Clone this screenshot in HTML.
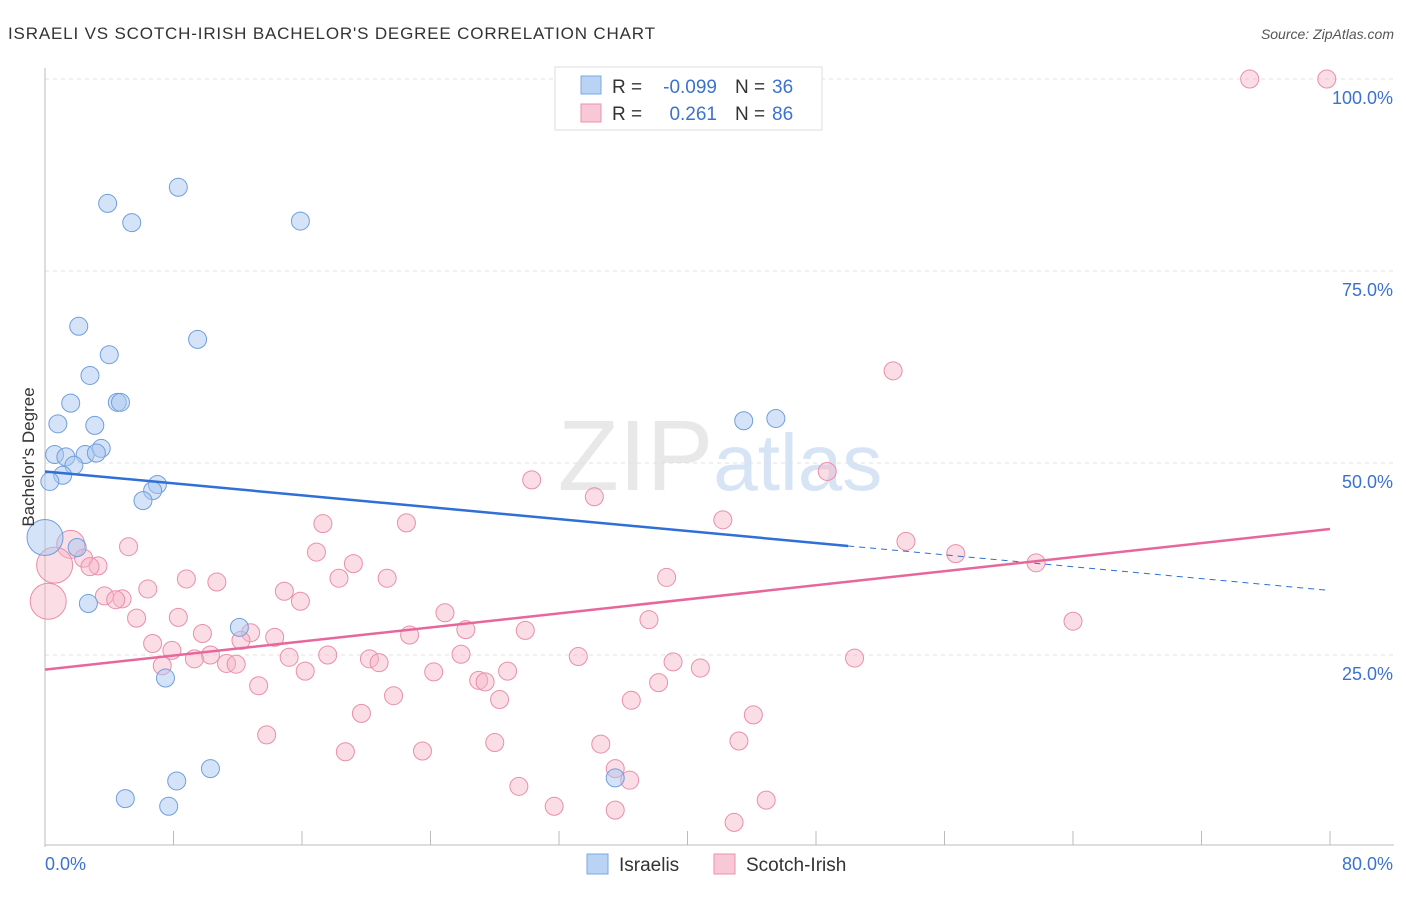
<!DOCTYPE html>
<html><head><meta charset="utf-8"><style>
body{margin:0;background:#fff;font-family:"Liberation Sans",sans-serif}
svg text{font-family:"Liberation Sans",sans-serif}
</style></head><body>
<svg width="1406" height="892" viewBox="0 0 1406 892" xmlns="http://www.w3.org/2000/svg">
<text x="8" y="39" font-size="17" fill="#333" textLength="647" lengthAdjust="spacing">ISRAELI VS SCOTCH-IRISH BACHELOR'S DEGREE CORRELATION CHART</text>
<text x="1394" y="39" font-size="14" fill="#555" text-anchor="end" font-style="italic">Source: ZipAtlas.com</text>
<text x="720" y="490" font-size="100" text-anchor="middle" fill="#e8e8e8" font-family="Liberation Serif">ZIP<tspan fill="#d6e4f5" font-family="Liberation Sans" font-size="80">atlas</tspan></text>
<g id="grid"></g>
<g id="axes"></g>
<g id="pts"></g>
<g id="trend"></g>
<text transform="translate(34,457) rotate(-90)" font-size="17" fill="#333" text-anchor="middle">Bachelor's Degree</text>
<g>
<rect x="555" y="67" width="267" height="63" fill="#fff" stroke="#ddd"/>
<rect x="581" y="76" width="20" height="18" fill="#b8d3f3" stroke="#7aa8e0"/>
<rect x="581" y="104" width="20" height="18" fill="#f9c8d6" stroke="#eb92ad"/>
<text x="612" y="93" font-size="19" fill="#333">R =</text>
<text x="717" y="93" font-size="19" fill="#3b72d0" text-anchor="end">-0.099</text>
<text x="735" y="93" font-size="19" fill="#333">N =</text>
<text x="772" y="93" font-size="19" fill="#3b72d0">36</text>
<text x="612" y="120" font-size="19" fill="#333">R =</text>
<text x="717" y="120" font-size="19" fill="#3b72d0" text-anchor="end">0.261</text>
<text x="735" y="120" font-size="19" fill="#333">N =</text>
<text x="772" y="120" font-size="19" fill="#3b72d0">86</text>
</g>
<g>
<rect x="587" y="854" width="21" height="20" fill="#b8d3f3" stroke="#7aa8e0"/>
<text x="619" y="871" font-size="19" fill="#333">Israelis</text>
<rect x="714" y="854" width="21" height="20" fill="#f9c8d6" stroke="#eb92ad"/>
<text x="746" y="871" font-size="19" fill="#333">Scotch-Irish</text>
</g>
</svg>
<script>
const yTicks=[25,50,75,100];
const yTickLabels=["25.0%","50.0%","75.0%","100.0%"];
const israeliX=[3.9,8.3,5.4,15.9,2.1,9.5,4.0,2.8,1.6,4.5,4.7,0.8,3.1,3.5,0.6,1.3,2.5,3.2,1.8,1.1,0.3,7.0,6.7,6.1,0.0,2.0,2.7,12.1,7.5,43.5,45.5,8.2,10.3,5.0,7.7,35.5];
const israeliY=[83.8,85.9,81.3,81.5,67.8,66.1,64.1,61.4,57.8,57.9,57.9,55.1,54.9,51.9,51.1,50.8,51.1,51.3,49.7,48.4,47.6,47.2,46.4,45.1,40.3,39.0,31.7,28.6,22.0,55.5,55.8,8.6,10.2,6.3,5.3,9.0];
const israeliR=[9,9,9,9,9,9,9,9,9,9,9,9,9,9,9,9,9,9,9,9,9,9,9,9,18,9,9,9,9,9,9,9,9,9,9,9];
const scotchX=[75.0,79.8,52.8,48.7,30.3,34.2,42.2,22.5,17.3,53.6,56.7,61.7,1.6,5.2,16.9,19.2,2.4,3.3,2.8,0.6,8.8,10.7,21.3,18.3,38.7,6.4,14.9,15.9,3.7,4.8,4.4,0.2,5.7,8.3,24.9,37.6,64.0,26.2,29.9,12.8,9.8,22.7,14.3,12.2,6.7,7.9,10.3,9.3,15.2,17.6,20.2,25.9,33.2,50.4,11.3,11.9,7.3,20.8,39.1,40.8,16.2,24.2,27.0,27.4,28.8,38.2,13.3,21.7,28.3,36.5,19.7,44.1,13.8,28.0,18.7,23.5,34.6,43.2,35.5,36.4,29.5,31.7,44.9,35.5,42.9];
const scotchY=[100,100,62.0,48.9,47.8,45.6,42.6,42.2,42.1,39.8,38.2,37.0,39.4,39.1,38.4,36.9,37.6,36.6,36.5,36.7,34.9,34.5,35.0,35.0,35.1,33.6,33.3,32.0,32.7,32.3,32.2,32.0,29.8,29.9,30.5,29.6,29.4,28.3,28.2,27.9,27.8,27.6,27.3,26.9,26.5,25.6,25.0,24.5,24.7,25.0,24.5,25.1,24.8,24.6,23.9,23.8,23.6,24.0,24.1,23.3,22.9,22.8,21.7,21.5,22.9,21.4,21.0,19.7,19.2,19.1,17.4,17.2,14.6,13.6,12.4,12.5,13.4,13.8,10.2,8.7,7.9,5.3,6.1,4.8,3.2];
const scotchR=[9,9,9,9,9,9,9,9,9,9,9,9,14,9,9,9,9,9,9,18,9,9,9,9,9,9,9,9,9,9,9,18,9,9,9,9,9,9,9,9,9,9,9,9,9,9,9,9,9,9,9,9,9,9,9,9,9,9,9,9,9,9,9,9,9,9,9,9,9,9,9,9,9,9,9,9,9,9,9,9,9,9,9,9,9];
const israeliTrend=[[0,48.9],[50,39.2],[80,33.4]];
const scotchTrend=[[0,23.1],[80,41.4]];
const X0=45,X1=1330,Y0=847,Y1=79;
const xs=v=>X0+(X1-X0)*v/80, ys=v=>Y0-(Y0-Y1)*v/100;
const NS="http://www.w3.org/2000/svg";
function mk(p,t,a){const e=document.createElementNS(NS,t);for(const k in a)e.setAttribute(k,a[k]);p.appendChild(e);return e;}
const grid=document.getElementById('grid'),axes=document.getElementById('axes'),pts=document.getElementById('pts'),trend=document.getElementById('trend');
yTicks.forEach((v,i)=>{
 const l=mk(grid,'line',{x1:X0,x2:1394,y1:ys(v),y2:ys(v),stroke:'#e0e0e0','stroke-dasharray':'4,4'});
 
 
 const t=mk(axes,'text',{x:1393,y:ys(v)+25,'font-size':18,fill:'#3b72d0','text-anchor':'end'});
 t.textContent=yTickLabels[i];
 
 
});
mk(axes,'line',{x1:X0,x2:X0,y1:68,y2:847,stroke:'#bbb'});
mk(axes,'line',{x1:X0,x2:1394,y1:845,y2:845,stroke:'#bbb'});
for(let i=0;i<=10;i++){const x=xs(i*8);const tk=mk(axes,'line',{x1:x,x2:x,y1:831,y2:845,stroke:'#bbb'});}
let t1=mk(axes,'text',{x:45,y:870,'font-size':18,fill:'#3b72d0'});t1.textContent='0.0%';


let t2=mk(axes,'text',{x:1393,y:870,'font-size':18,fill:'#3b72d0','text-anchor':'end'});t2.textContent='80.0%';


scotchX.forEach((v,i)=>{const c=mk(pts,'circle',{cx:xs(v),cy:ys(scotchY[i]),r:scotchR[i],fill:'rgba(246,180,200,0.45)',stroke:'#e98fab','stroke-width':1});
 
 });
israeliX.forEach((v,i)=>{const c=mk(pts,'circle',{cx:xs(v),cy:ys(israeliY[i]),r:israeliR[i],fill:'rgba(170,200,240,0.5)',stroke:'#6f9fdc','stroke-width':1});
 
 });
let a=israeliTrend;
let l1=mk(trend,'line',{x1:xs(a[0][0]),y1:ys(a[0][1]),x2:xs(a[1][0]),y2:ys(a[1][1]),stroke:'#2f6fd6','stroke-width':2.5});


let l2=mk(trend,'line',{x1:xs(a[1][0]),y1:ys(a[1][1]),x2:xs(a[2][0]),y2:ys(a[2][1]),stroke:'#2f6fd6','stroke-width':1,'stroke-dasharray':'6,5'});


let b=scotchTrend;
let l3=mk(trend,'line',{x1:xs(b[0][0]),y1:ys(b[0][1]),x2:xs(b[1][0]),y2:ys(b[1][1]),stroke:'#e8679a','stroke-width':2.5});


</script>
</body></html>
